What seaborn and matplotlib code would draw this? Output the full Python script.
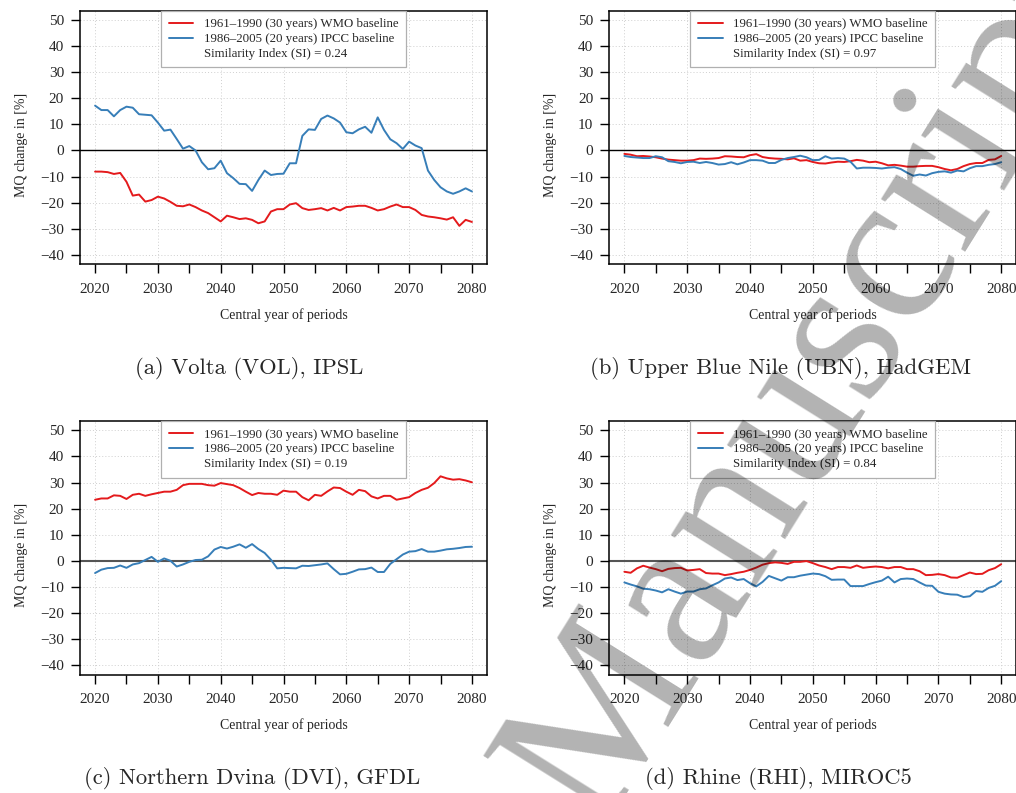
import matplotlib
matplotlib.use("Agg")
import matplotlib.pyplot as plt
import seaborn as sns
import pandas as pd
from matplotlib.lines import Line2D

# ---------------------- data ----------------------
years = list(range(2020, 2081))

label_wmo = "1961\u20131990 (30 years) WMO baseline"
label_ipcc = "1986\u20132005 (20 years) IPCC baseline"

# (a) Volta, IPSL
vol_wmo = [-8.1, -8.1, -8.3, -9.0, -8.6, -12.0, -17.3, -16.9, -19.6, -19.0,
           -17.7, -18.4, -19.7, -21.2, -21.4, -20.7, -21.7, -23.0, -24.0, -25.6,
           -27.2, -25.0, -25.6, -26.3, -26.0, -26.6, -27.9, -27.2, -23.4, -22.5,
           -22.5, -20.7, -20.2, -22.1, -22.8, -22.5, -22.1, -23.0, -22.0, -23.0,
           -21.7, -21.5, -21.2, -21.2, -22.0, -23.0, -22.5, -21.5, -20.7, -21.7,
           -21.7, -22.8, -24.7, -25.3, -25.6, -26.0, -26.5, -25.6, -28.9, -26.6,
           -27.4]
vol_ipcc = [17.2, 15.5, 15.5, 13.1, 15.5, 16.8, 16.4, 13.9, 13.7, 13.5,
            10.7, 7.6, 8.0, 4.4, 0.7, 1.7, 0.0, -4.5, -7.2, -6.8,
            -3.9, -8.7, -10.6, -12.8, -12.9, -15.5, -11.3, -7.7, -9.4, -9.0,
            -8.9, -4.9, -4.9, 5.6, 8.1, 7.9, 12.1, 13.4, 12.3, 10.7,
            7.0, 6.6, 8.1, 9.1, 6.8, 12.7, 7.9, 4.3, 2.8, 0.6,
            3.4, 1.9, 0.9, -7.7, -11.3, -14.1, -15.7, -16.6, -15.7, -14.5,
            -15.7]

# (b) Upper Blue Nile, HadGEM
ubn_wmo = [-1.3, -1.6, -2.2, -2.1, -2.3, -2.6, -3.1, -3.5, -3.7, -3.9,
           -3.9, -3.7, -3.1, -3.2, -3.1, -2.9, -2.2, -2.3, -2.5, -2.6,
           -1.8, -1.4, -2.5, -2.9, -3.1, -3.2, -3.4, -3.0, -3.9, -3.7,
           -4.4, -4.9, -5.0, -4.6, -4.3, -4.4, -4.1, -3.6, -3.9, -4.5,
           -4.3, -4.9, -5.7, -5.5, -5.8, -6.2, -6.2, -6.0, -5.9, -5.9,
           -6.4, -7.1, -7.6, -7.1, -6.0, -5.2, -4.8, -4.8, -3.6, -3.4,
           -2.1]
ubn_ipcc = [-2.1, -2.5, -2.7, -2.9, -2.9, -2.2, -2.6, -4.1, -4.4, -4.9,
            -4.4, -4.3, -4.8, -4.4, -4.8, -5.4, -5.2, -4.5, -5.3, -4.6,
            -3.7, -3.7, -3.9, -4.8, -4.8, -3.6, -2.9, -2.5, -2.0, -2.6,
            -3.7, -3.6, -2.2, -3.1, -2.9, -3.1, -4.3, -6.9, -6.6, -6.6,
            -6.7, -6.9, -6.6, -6.4, -7.1, -8.5, -9.7, -9.2, -9.6, -8.7,
            -8.2, -8.0, -8.5, -7.7, -8.0, -6.8, -6.0, -6.0, -5.5, -5.2,
            -4.5]

# (c) Northern Dvina, GFDL
dvi_wmo = [23.4, 23.9, 23.9, 25.1, 24.9, 23.7, 25.3, 25.7, 24.9, 25.5,
           26.0, 26.5, 26.5, 27.2, 29.0, 29.5, 29.5, 29.5, 29.0, 28.8,
           29.8, 29.4, 29.0, 27.9, 26.5, 25.2, 26.0, 25.7, 25.7, 25.3,
           26.9, 26.5, 26.5, 24.4, 23.2, 25.3, 24.9, 26.6, 28.1, 27.9,
           26.5, 25.3, 27.2, 26.7, 24.7, 23.9, 24.9, 24.9, 23.4, 23.9,
           24.4, 26.0, 27.2, 28.0, 29.8, 32.4, 31.6, 31.1, 31.3, 30.8,
           30.1]
dvi_ipcc = [-4.7, -3.4, -2.8, -2.7, -1.8, -2.7, -1.4, -0.9, 0.3, 1.5,
            -0.4, 0.9, 0.0, -2.2, -1.4, -0.4, 0.3, 0.4, 1.7, 4.3,
            5.3, 4.7, 5.4, 6.3, 5.0, 6.4, 4.5, 3.0, 0.4, -2.9,
            -2.7, -2.8, -2.9, -1.9, -2.0, -1.7, -1.4, -1.0, -3.2, -5.2,
            -5.0, -4.2, -3.3, -3.2, -2.6, -4.3, -4.3, -1.2, 0.6, 2.4,
            3.5, 3.7, 4.5, 3.5, 3.5, 3.9, 4.4, 4.6, 4.9, 5.3,
            5.4]

# (d) Rhine, MIROC5
rhi_wmo = [-4.2, -4.6, -2.9, -1.9, -2.6, -3.2, -4.0, -3.1, -2.8, -2.7,
           -3.7, -3.5, -3.2, -4.7, -4.9, -4.9, -5.5, -5.1, -4.6, -4.2,
           -3.5, -2.6, -1.5, -0.9, -0.6, -0.8, -1.2, -0.4, -0.4, -0.1,
           -0.9, -1.8, -2.4, -3.2, -2.4, -2.4, -2.7, -1.8, -2.7, -2.4,
           -2.2, -2.4, -2.9, -2.4, -2.4, -3.2, -3.2, -4.0, -5.5, -5.4,
           -5.1, -5.5, -6.4, -6.5, -5.5, -4.5, -5.1, -5.0, -3.6, -2.8,
           -1.3]
rhi_ipcc = [-8.3, -9.1, -9.8, -10.7, -10.9, -11.4, -12.1, -10.9, -11.8, -12.6,
            -11.8, -11.8, -10.9, -10.6, -9.4, -8.3, -6.8, -6.4, -7.4, -7.0,
            -8.6, -9.8, -8.1, -5.8, -6.7, -7.6, -6.3, -6.3, -5.7, -5.3,
            -4.9, -5.1, -5.9, -7.3, -7.2, -7.2, -9.7, -9.7, -9.7, -8.9,
            -8.2, -7.6, -6.1, -8.3, -7.0, -6.8, -7.0, -8.3, -9.5, -9.6,
            -11.9, -12.6, -12.9, -13.0, -13.9, -13.6, -11.6, -11.9, -10.4, -9.6,
            -7.8]

similarity = [0.24, 0.97, 0.19, 0.84]
captions = ["(a) Volta (VOL), IPSL",
            "(b) Upper Blue Nile (UBN), HadGEM",
            "(c) Northern Dvina (DVI), GFDL",
            "(d) Rhine (RHI), MIROC5"]

# ---------------------- style ----------------------
sns.set_style("ticks")
plt.rcParams["font.family"] = ["Liberation Serif", "DejaVu Serif"]

red = "#e41a1c"
blue = "#377eb8"

W, H = 1016, 793
fig = plt.figure(figsize=(W / 100, H / 100), dpi=100)

# axes boxes in pixels: left, top
ax_w, ax_h = 407, 253.5
boxes = [(80, 10.7), (609.3, 10.7), (80, 421), (609.3, 421)]
panels = [(vol_wmo, vol_ipcc), (ubn_wmo, ubn_ipcc), (dvi_wmo, dvi_ipcc), (rhi_wmo, rhi_ipcc)]
zero_style = [("black", 1.0), ("black", 1.0), ("#555555", 1.5), ("#555555", 1.5)]
caption_pos = [(249, 368), (781, 368), (252, 778), (778, 778)]


def draw_panel(ax, wmo, ipcc, si, zcol, zlw):
    df = pd.DataFrame({
        "year": years * 2,
        "change": wmo + ipcc,
        "baseline": [label_wmo] * len(years) + [label_ipcc] * len(years),
    })
    ax.axhline(0, color=zcol, lw=zlw, zorder=1)
    sns.lineplot(data=df, x="year", y="change", hue="baseline",
                 palette=[red, blue], lw=1.4, ax=ax, legend=False, zorder=3)

    ax.set_xlim(2017.6, 2082.4)
    ax.set_ylim(-43.6, 53.6)
    ax.set_xticks(range(2020, 2081, 10))
    ax.set_xticks(range(2025, 2080, 10), minor=True)
    ax.set_yticks(range(-40, 51, 10))
    ax.tick_params(which="both", direction="out", length=6.5, width=1.0,
                   color="black", labelsize=11)
    ax.tick_params(axis="x", pad=7)
    ax.tick_params(axis="y", pad=5)
    ax.grid(which="major", ls=(0, (1, 2.2)), color="#cfcfcf", lw=0.7)
    ax.set_axisbelow(True)
    for s in ax.spines.values():
        s.set_color("black")
        s.set_linewidth(1.1)

    ax.set_xlabel("Central year of periods", fontsize=10)
    ax.set_ylabel("MQ change in [%]", fontsize=10)
    ax.xaxis.set_label_coords(0.5, -0.172)
    ax.yaxis.set_label_coords(-0.128, 0.47)

    handles = [Line2D([], [], color=red, lw=1.4),
               Line2D([], [], color=blue, lw=1.4),
               Line2D([], [], color="none")]
    labels = [label_wmo, label_ipcc, f"Similarity Index (SI) = {si:.2f}"]
    leg = ax.legend(handles, labels, loc="upper center", bbox_to_anchor=(0.5, 1.0),
                    fontsize=9.3, frameon=True, fancybox=False, framealpha=1,
                    edgecolor="#b0b0b0", borderaxespad=0, handlelength=1.9,
                    handletextpad=0.8, labelspacing=0.2, borderpad=0.6)
    leg.get_frame().set_linewidth(0.9)


for (left, top), (wmo, ipcc), si, (zc, zl) in zip(boxes, panels, similarity, zero_style):
    ax = fig.add_axes([left / W, 1 - (top + ax_h) / H, ax_w / W, ax_h / H])
    draw_panel(ax, wmo, ipcc, si, zc, zl)

for (cx, cy), cap in zip(caption_pos, captions):
    fig.text(cx / W, 1 - cy / H, cap, family="cmr10", fontsize=16.3,
             ha="center", va="center")

# grey diagonal watermark laid over the page
fig.text(815 / W, 1 - 385 / H, "Manuscript", family="Liberation Serif",
         fontsize=156, color="black", alpha=0.3, rotation=58,
         ha="center", va="center", rotation_mode="anchor", zorder=10)

fig.savefig("out.png", dpi=100)
